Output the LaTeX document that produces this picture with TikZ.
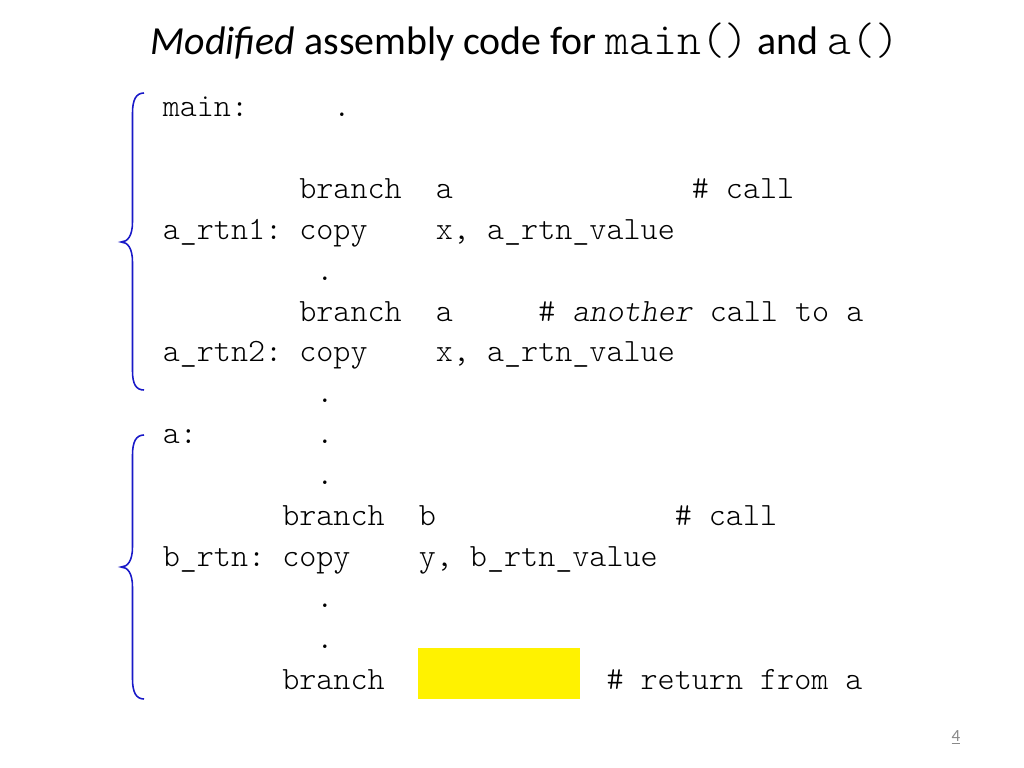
\documentclass[tikz,border=0pt]{standalone}
\usepackage{fontspec}
\setmainfont{Carlito}
\setmonofont{Latin Modern Mono Light}
\usepackage{xcolor}
\usepackage{tikz}
\usetikzlibrary{calc}
\usetikzlibrary{positioning}

\definecolor{bracecol}{RGB}{25,25,200}
\definecolor{pagegray}{RGB}{137,137,137}

\tikzset{
  code/.style={anchor=base west, inner sep=0pt,
    font=\ttfamily\fontsize{22.86}{26}\selectfont},
  brace/.style={bracecol, line width=1.1pt}
}

\begin{document}
\begin{tikzpicture}[x=0.703125pt, y=-0.703125pt]

    \useasboundingbox (0, 0) rectangle (1024, 768);
    \fill [white] (0, 0) rectangle (1024, 768);

    % title
    \node [anchor=base, inner sep=0pt, font=\fontsize{28}{34}\selectfont]
      (title) at (525, 55)
      {\textit{Modified} assembly code for
       {\ttfamily\fontsize{31.9}{34}\selectfont main()} and
       {\ttfamily\fontsize{31.9}{34}\selectfont a()}};

    % blank to be filled in
    \fill [yellow] (418, 648) rectangle (580, 699);

    % code, one unit = one character / one line
    \begin{scope}[shift={(162.5, 116.5)}, x=12pt, y=-28.76pt]
      \node [code] (mainlbl) at (0, 0) {main:};
      \node [code] (dota) at (10, 0) {.};

      \node [code] (br1) at (8, 2) {branch};
      \node [code] (br1arg) at (16, 2) {a};
      \node [code] (br1cmt) at (31, 2) {\# call};

      \node [code] (rtn1) at (0, 3) {a\_rtn1:};
      \node [code] (cp1) at (8, 3) {copy};
      \node [code] (cp1arg) at (16, 3) {x, a\_rtn\_value};

      \node [code] (dotb) at (9, 4) {.};

      \node [code] (br2) at (8, 5) {branch};
      \node [code] (br2arg) at (16, 5) {a};
      \node [code] (br2cmt) at (22, 5) {\# \textit{another} call to a};

      \node [code] (rtn2) at (0, 6) {a\_rtn2:};
      \node [code] (cp2) at (8, 6) {copy};
      \node [code] (cp2arg) at (16, 6) {x, a\_rtn\_value};

      \node [code] (dotc) at (9, 7) {.};

      \node [code] (albl) at (0, 8) {a:};
      \node [code] (dotd) at (9, 8) {.};
      \node [code] (dote) at (9, 9) {.};

      \node [code] (br3) at (7, 10) {branch};
      \node [code] (br3arg) at (15, 10) {b};
      \node [code] (br3cmt) at (30, 10) {\# call};

      \node [code] (rtnb) at (0, 11) {b\_rtn:};
      \node [code] (cp3) at (7, 11) {copy};
      \node [code] (cp3arg) at (15, 11) {y, b\_rtn\_value};

      \node [code] (dotf) at (9, 12) {.};
      \node [code] (dotg) at (9, 13) {.};

      \node [code] (br4) at (7, 14) {branch};
      \node [code] (br4cmt) at (26, 14) {\# return from a};
    \end{scope}

    % braces
    \draw [brace] (144, 93) .. controls (136, 93) and (132.5, 100) .. (132.5, 113)
      -- (132.5, 222) .. controls (132.5, 236) and (127.5, 242) .. (121, 242)
      .. controls (127.5, 242) and (132.5, 248) .. (132.5, 262)
      -- (132.5, 371) .. controls (132.5, 384) and (136, 390) .. (144, 390);

    \draw [brace] (144, 435) .. controls (136, 435) and (132.5, 442) .. (132.5, 455)
      -- (132.5, 547) .. controls (132.5, 561) and (127.5, 567) .. (121, 567)
      .. controls (127.5, 567) and (132.5, 573) .. (132.5, 587)
      -- (132.5, 679) .. controls (132.5, 692) and (136, 699) .. (144, 699);

    % page number
    \node [anchor=base, inner sep=0pt, text=pagegray,
      font=\fontsize{12}{14}\selectfont] (pagenum) at (956, 741) {\underline{4}};

  \end{tikzpicture}
\end{document}
